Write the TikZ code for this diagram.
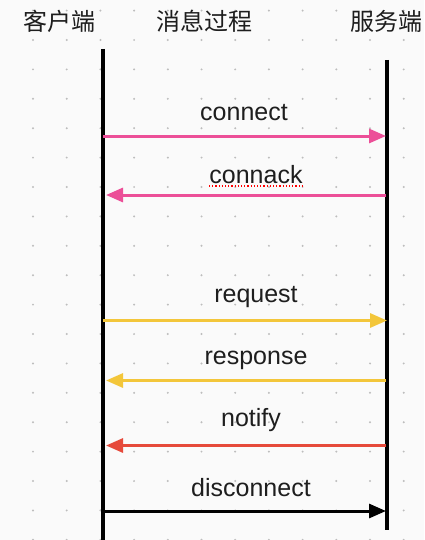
\documentclass[tikz,border=0pt]{standalone}
\usepackage{fontspec}
\setmainfont{Liberation Sans}
\newfontfamily\cjk{Noto Sans CJK SC}
\usetikzlibrary{arrows.meta}
\definecolor{bgc}{HTML}{FAFAFA}
\definecolor{dotc}{HTML}{BDBDBD}
\definecolor{pinkc}{HTML}{EC4F98}
\definecolor{yellowc}{HTML}{F3C63A}
\definecolor{redc}{HTML}{E64A3B}
\definecolor{txtc}{HTML}{1E1E1E}
\tikzset{
  hdr/.style={font=\cjk\fontsize{12pt}{14pt}\selectfont, text=txtc, inner sep=0pt},
  lbl/.style={font=\fontsize{12.5pt}{15pt}\selectfont, text=txtc, inner sep=0pt, anchor=base},
  life/.style={line width=1.8pt, black},
  msg/.style={line width=1.5pt, -{Triangle[length=8.5pt,width=7pt]}},
}
\begin{document}
\begin{tikzpicture}[x=0.5pt,y=-0.5pt]
\fill[bgc] (0,0) rectangle (424,540);
\useasboundingbox (0,0) rectangle (424,540);
% dot grid
\foreach \i in {0,...,11}{
  \foreach \j in {0,...,18}{
    \fill[dotc] ({33+33.7*\i},{10.6+29.4*\j}) circle (0.55pt);
  }
}
% headers
\node[hdr] (client) at (59,21) {客户端};
\node[hdr] (process) at (204,21) {消息过程};
\node[hdr] (server) at (386,21) {服务端};
% lifelines
\coordinate (ctop) at (103,49);
\coordinate (cbot) at (103,540);
\coordinate (stop) at (387,60);
\coordinate (sbot) at (387,530);
\draw[life] (ctop) -- (cbot);
\draw[life] (stop) -- (sbot);
% message end points
\coordinate (c1) at (103,136); \coordinate (s1) at (386,136);
\coordinate (c2) at (106,195); \coordinate (s2) at (386,195);
\coordinate (c3) at (103,320.5); \coordinate (s3) at (387,320.5);
\coordinate (c4) at (106,380.5); \coordinate (s4) at (386,380.5);
\coordinate (c5) at (106,445.5); \coordinate (s5) at (386,445.5);
\coordinate (c6) at (103,511); \coordinate (s6) at (386,511);
% messages
\draw[msg, pinkc] (c1) -- (s1);
\draw[msg, pinkc] (s2) -- (c2);
\draw[msg, yellowc] (c3) -- (s3);
\draw[msg, yellowc] (s4) -- (c4);
\draw[msg, redc] (s5) -- (c5);
\draw[msg, black] (c6) -- (s6);
% labels
\node[lbl] (lconnect) at (244,120) {connect};
\node[lbl] (lconnack) at (256,183) {connack};
\draw[red, densely dotted, line width=0.6pt] ([yshift=-1.5pt]lconnack.base west) -- ([yshift=-1.5pt]lconnack.base east);
\node[lbl] (lrequest) at (256,302.5) {request};
\node[lbl] (lresponse) at (256,364.5) {response};
\node[lbl] (lnotify) at (251,426.5) {notify};
\node[lbl] (ldisconnect) at (251,496.5) {disconnect};
\end{tikzpicture}
\end{document}
